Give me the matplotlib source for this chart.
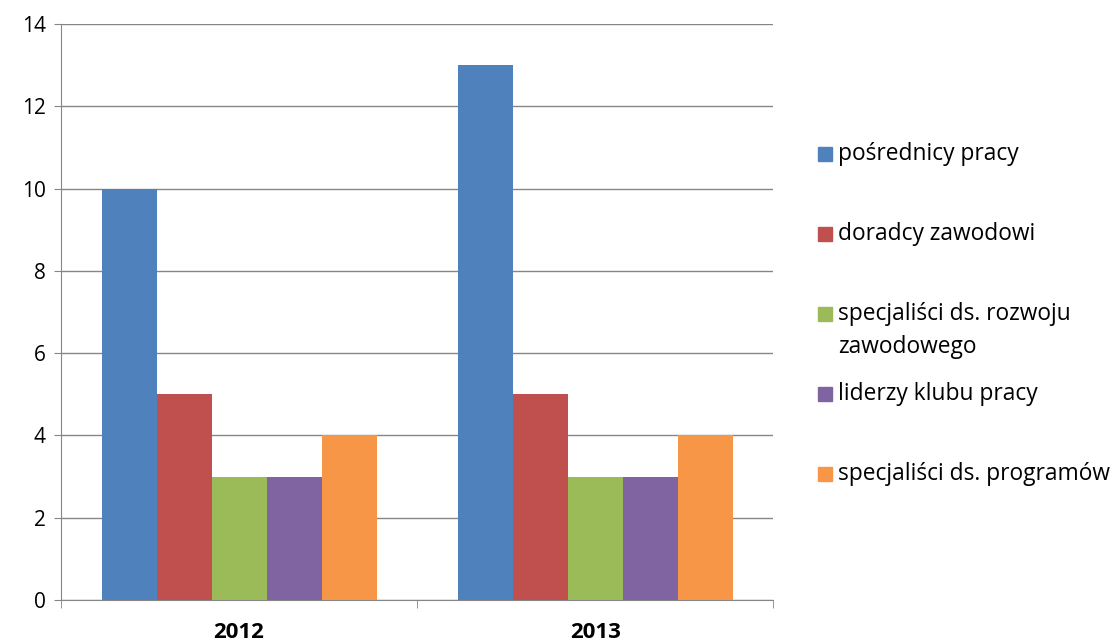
import matplotlib.pyplot as plt
import numpy as np
from matplotlib.patches import Rectangle

plt.rcParams['font.family'] = ['Open Sans', 'DejaVu Sans']

# dane
years = ['2012', '2013']
series = ['pośrednicy pracy', 'doradcy zawodowi',
          'specjaliści ds. rozwoju\nzawodowego', 'liderzy klubu pracy',
          'specjaliści ds. programów']
values = [
    [10, 13],
    [5, 5],
    [3, 3],
    [3, 3],
    [4, 4],
]
colors = ['#4F81BD', '#C0504D', '#9BBB59', '#8064A2', '#F79646']

fig = plt.figure(figsize=(11.19, 6.44), dpi=100)
ax = fig.add_axes([0.0545, 0.0683, 0.6365, 0.8944])

x = np.arange(len(years))
w = 0.772 / len(series)
for i, (name, vals) in enumerate(zip(series, values)):
    offs = (i - (len(series) - 1) / 2) * w
    ax.bar(x + offs, vals, w, color=colors[i], zorder=3, label=name)

ax.set_xlim(-0.5, len(years) - 0.5)
ax.set_ylim(0, 14)
ax.set_yticks(range(0, 15, 2))
ax.yaxis.grid(True, color='#868686', linewidth=1, zorder=0)
ax.set_xticks(x)
ax.set_xticklabels(years, fontsize=16, fontweight='bold')
ax.tick_params(axis='x', length=0, pad=16)
ax.set_xticks(np.arange(-0.5, len(years)), minor=True)
ax.tick_params(axis='x', which='minor', length=6, color='#868686')
ax.tick_params(axis='y', labelsize=15, length=5, color='#868686', pad=6)
for s in ['top', 'right']:
    ax.spines[s].set_visible(False)
ax.spines['left'].set_color('#868686')
ax.spines['bottom'].set_color('#868686')

# legenda
ys = [154, 234, 314, 394, 474]
for name, c, yp in zip(series, colors, ys):
    fy = 1 - yp / 644
    fig.add_artist(Rectangle((818 / 1119, fy - 7 / 644), 14 / 1119, 14 / 644,
                             transform=fig.transFigure, color=c))
    lines = name.split('\n')
    for k, ln in enumerate(lines):
        fig.text(838 / 1119, fy - k * 33 / 644, ln,
                 fontsize=16.4, va='center', ha='left')

fig.savefig('out.png')
